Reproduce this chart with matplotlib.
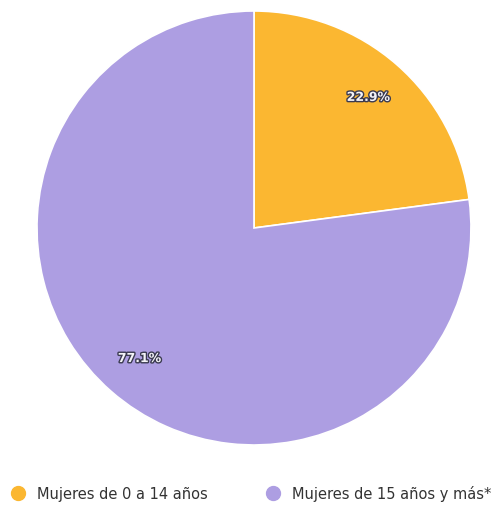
import matplotlib.pyplot as plt
import matplotlib.patheffects as pe

labels = ["Mujeres de 0 a 14 años", "Mujeres de 15 años y más*"]
shares = [22.9, 77.1]
colors = ["#fbb731", "#ad9ee2"]

fig = plt.figure(figsize=(5.02, 5.06), dpi=100)
ax = fig.add_axes([0.0737, 0.1186, 0.8645, 0.8577])

wedges, texts, autotexts = ax.pie(
    shares, colors=colors, startangle=90, counterclock=False,
    autopct="%.1f%%", pctdistance=0.8, radius=1.0,
    wedgeprops=dict(edgecolor="white", linewidth=1.2),
)
for t in autotexts:
    t.set_fontsize(9)
    t.set_fontweight("bold")
    t.set_color("#f4f4f8")
    t.set_path_effects([pe.withStroke(linewidth=2, foreground="#3a3a50")])
ax.set_xlim(-1, 1)
ax.set_ylim(-1, 1)
ax.set_aspect("equal")

# round markers in the legend like the original
handles = [plt.Line2D([], [], marker="o", linestyle="", markersize=10,
                      markerfacecolor=c, markeredgecolor=c) for c in colors]
leg = fig.legend(
    handles, labels, loc="lower center", bbox_to_anchor=(0.5, -0.018),
    ncol=2, frameon=False, fontsize=10.5, handlelength=1.0,
    columnspacing=4.0, handletextpad=0.8,
)
for txt in leg.get_texts():
    txt.set_color("#333333")

fig.savefig("out.png", dpi=100)
